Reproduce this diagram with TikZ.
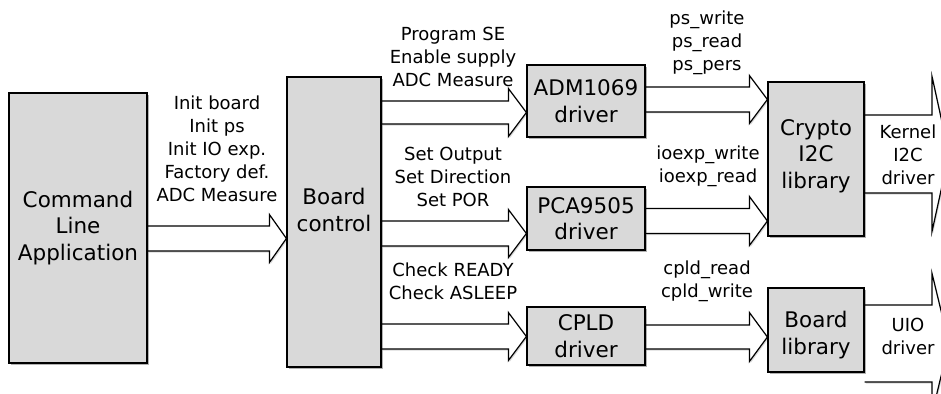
\documentclass[tikz,border=0pt]{standalone}
\usepackage{fontspec}
\setmainfont{DejaVu Sans}
\usetikzlibrary{calc,shadows,backgrounds}
\definecolor{boxgray}{HTML}{D9D9D9}
\tikzset{
  shd/.style={drop shadow={shadow xshift=1.8pt, shadow yshift=-1.8pt, opacity=0.3, fill=black}},
  ashd/.style={drop shadow={shadow xshift=1.2pt, shadow yshift=-1.5pt, opacity=0.15, fill=black}},
  box/.style={draw=black, line width=1.2pt, fill=boxgray, inner sep=0pt, align=center,
    font=\fontsize{21.5}{26.5}\selectfont, shd},
  boxtxt/.style={inner sep=0pt, align=center, font=\fontsize{21.5}{26.5}\selectfont},
  lbl/.style={align=center, inner sep=0pt, font=\fontsize{18}{23}\selectfont},
  barrow/.style={draw=black, line width=1.2pt, fill=white, line join=miter, ashd},
}
% #1 source point, #2 target point, #3 centre y, #4 shaft half width, #5 head half width, #6 head length
\newcommand\blockarrow[6]{%
  \path[barrow] let \p1=(#1), \p2=(#2) in
   (\x1,#3pt+#4pt) -- (\x2-#6pt,#3pt+#4pt) -- (\x2-#6pt,#3pt+#5pt) -- (\x2,#3pt)
   -- (\x2-#6pt,#3pt-#5pt) -- (\x2-#6pt,#3pt-#4pt) -- (\x1,#3pt-#4pt);}
\begin{document}
\begin{tikzpicture}[x=1pt,y=1pt]
\useasboundingbox (0,0) rectangle (941,-393);
\clip (0,0) rectangle (941,-393);

% boxes
\node[box, minimum width=138pt, minimum height=270pt] (cla) at (78,-228) {Command\\Line\\Application};
\node[box, minimum width=94pt, minimum height=290pt] (board) at (334,-222) {};
\node[boxtxt] (boardtxt) at (334,-210) {Board\\control};
\node[box, minimum width=118pt, minimum height=72pt] (adm) at (586,-101) {ADM1069\\driver};
\node[box, minimum width=118pt, minimum height=63pt] (pca) at (586,-218.5) {PCA9505\\driver};
\node[box, minimum width=118pt, minimum height=58pt] (cpld) at (586,-336) {CPLD\\driver};
\node[box, minimum width=96pt, minimum height=154pt] (crypto) at (816,-159) {};
\node[boxtxt] (cryptotxt) at (816,-156) {Crypto\\I2C\\library};
\node[box, minimum width=96pt, minimum height=84pt] (blib) at (816,-330) {};
\node[boxtxt] (blibtxt) at (816,-335) {Board\\library};

\coordinate (kout) at (949,-154);
\coordinate (uout) at (949,-343.5);

% block arrows
\begin{scope}[on background layer]
\blockarrow{cla.east}{board.west}{-238.5}{12.5}{24}{17}
\blockarrow{board.east}{adm.west}{-112.5}{11.5}{24}{18}
\blockarrow{board.east}{pca.west}{-233.5}{12.5}{24}{18}
\blockarrow{board.east}{cpld.west}{-336.5}{12.5}{24}{18}
\blockarrow{adm.east}{crypto.west}{-99.5}{12.5}{24}{18}
\blockarrow{pca.east}{crypto.west}{-221}{12.5}{24.5}{18}
\blockarrow{cpld.east}{blib.west}{-337}{12}{24.5}{18}
\blockarrow{crypto.east}{kout}{-154}{39}{77.5}{17}
\blockarrow{blib.east}{uout}{-343.5}{38.5}{70}{17}
\end{scope}

% labels
\node[lbl] (l1) at (217,-149) {Init board\\Init ps\\Init IO exp.\\Factory def.\\ADC Measure};
\node[lbl] (l2) at (453,-57) {Program SE\\Enable supply\\ADC Measure};
\node[lbl] (l3) at (453,-177) {Set Output\\Set Direction\\Set POR};
\node[lbl] (l4) at (453,-281) {Check READY\\Check ASLEEP};
\node[lbl] (l5) at (707,-43) {ps\_write\\ps\_read\\ps\_pers};
\node[lbl] (l6) at (708,-166) {ioexp\_write\\ioexp\_read};
\node[lbl] (l7) at (707,-281) {cpld\_read\\cpld\_write};
\node[lbl] (l8) at (908,-155) {Kernel\\I2C\\driver};
\node[lbl] (l9) at (908,-336) {UIO\\driver};
\end{tikzpicture}
\end{document}
